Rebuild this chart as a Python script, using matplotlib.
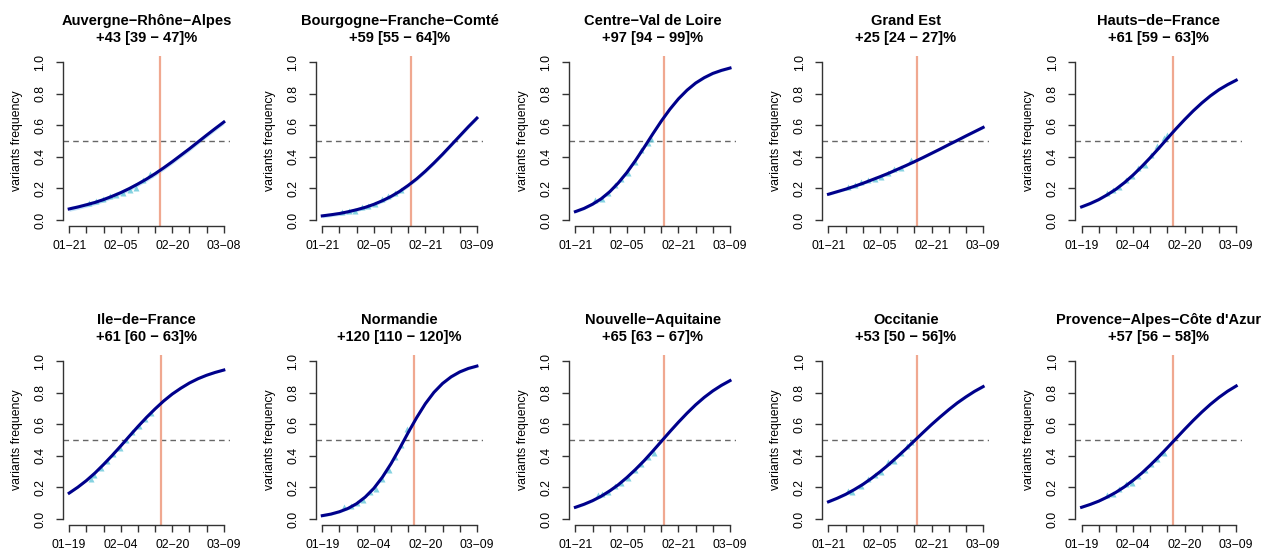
import numpy as np
import pandas as pd
import matplotlib
matplotlib.use('Agg')
import matplotlib.pyplot as plt

plt.rcParams['font.family'] = ['Liberation Sans', 'DejaVu Sans']

regions = ["Auvergne−Rhône−Alpes", "Bourgogne−Franche−Comté", "Centre−Val de Loire",
           "Grand Est", "Hauts−de−France", "Ile−de−France", "Normandie",
           "Nouvelle−Aquitaine", "Occitanie", "Provence−Alpes−Côte d'Azur"]
growth = ["+43 [39 − 47]%", "+59 [55 − 64]%", "+97 [94 − 99]%", "+25 [24 − 27]%",
          "+61 [59 − 63]%", "+61 [60 − 63]%", "+120 [110 − 120]%", "+65 [63 − 67]%",
          "+53 [50 − 56]%", "+57 [56 − 58]%"]
start_dates = ["2021-01-21", "2021-01-21", "2021-01-21", "2021-01-21", "2021-01-19",
               "2021-01-19", "2021-01-19", "2021-01-21", "2021-01-21", "2021-01-19"]
end_dates = ["2021-03-08", "2021-03-09", "2021-03-09", "2021-03-09", "2021-03-09",
             "2021-03-09", "2021-03-09", "2021-03-09", "2021-03-09", "2021-03-09"]
cutoff_date = "2021-02-17"

x_labels = [["01−21", "02−05", "02−20", "03−08"],
            ["01−21", "02−05", "02−21", "03−09"],
            ["01−21", "02−05", "02−21", "03−09"],
            ["01−21", "02−05", "02−21", "03−09"],
            ["01−19", "02−04", "02−20", "03−09"],
            ["01−19", "02−04", "02−20", "03−09"],
            ["01−19", "02−04", "02−20", "03−09"],
            ["01−21", "02−05", "02−21", "03−09"],
            ["01−21", "02−05", "02−21", "03−09"],
            ["01−19", "02−04", "02−20", "03−09"]]

# fitted frequency, read at evenly spaced points from first to last date
fit = [
    [0.070, 0.082, 0.096, 0.111, 0.129, 0.150, 0.173, 0.199, 0.228, 0.259, 0.293, 0.330, 0.369, 0.410, 0.451, 0.494, 0.537, 0.579, 0.620],
    [0.026, 0.033, 0.041, 0.052, 0.065, 0.080, 0.099, 0.122, 0.149, 0.181, 0.219, 0.261, 0.309, 0.361, 0.416, 0.474, 0.532, 0.590, 0.645],
    [0.053, 0.073, 0.100, 0.134, 0.179, 0.235, 0.301, 0.377, 0.459, 0.544, 0.626, 0.701, 0.767, 0.822, 0.867, 0.901, 0.928, 0.947, 0.962],
    [0.163, 0.179, 0.195, 0.213, 0.232, 0.253, 0.274, 0.296, 0.320, 0.344, 0.369, 0.395, 0.422, 0.449, 0.477, 0.504, 0.532, 0.559, 0.586],
    [0.083, 0.104, 0.129, 0.160, 0.195, 0.237, 0.285, 0.338, 0.395, 0.455, 0.517, 0.578, 0.636, 0.691, 0.741, 0.786, 0.825, 0.857, 0.885],
    [0.164, 0.201, 0.243, 0.291, 0.345, 0.402, 0.462, 0.524, 0.585, 0.643, 0.697, 0.747, 0.791, 0.828, 0.861, 0.888, 0.910, 0.928, 0.943],
    [0.021, 0.031, 0.046, 0.067, 0.097, 0.139, 0.194, 0.265, 0.350, 0.446, 0.547, 0.643, 0.730, 0.802, 0.858, 0.900, 0.931, 0.953, 0.968],
    [0.074, 0.093, 0.116, 0.144, 0.178, 0.217, 0.263, 0.314, 0.369, 0.429, 0.491, 0.553, 0.613, 0.670, 0.723, 0.770, 0.811, 0.846, 0.876],
    [0.109, 0.131, 0.156, 0.186, 0.219, 0.257, 0.299, 0.344, 0.393, 0.443, 0.495, 0.547, 0.598, 0.646, 0.692, 0.735, 0.773, 0.808, 0.838],
    [0.074, 0.092, 0.113, 0.139, 0.169, 0.204, 0.245, 0.290, 0.341, 0.395, 0.452, 0.510, 0.568, 0.624, 0.677, 0.726, 0.770, 0.809, 0.842],
]
ci_half = [0.015, 0.012, 0.008, 0.008, 0.008, 0.006, 0.008, 0.008, 0.008, 0.006]

# observed frequencies (days since first date)
obs_days = [
    [6, 8, 10, 12, 14, 16, 18, 20, 22, 24],
    [6, 8, 10, 12, 14, 16, 18, 20, 22, 24],
    [6, 8, 10, 12, 14, 16, 18, 20, 22, 23],
    [6, 8, 10, 12, 14, 16, 18, 20, 22, 25],
    [8, 10, 12, 14, 16, 18, 20, 22, 24, 26, 27],
    [7, 8, 10, 12, 14, 16, 18, 20, 22, 24, 26],
    [7, 9, 11, 13, 15, 17, 19, 21, 23, 25, 27],
    [7, 8, 10, 12, 14, 16, 18, 20, 22, 24],
    [6, 7, 10, 12, 14, 16, 18, 20, 22, 24, 25],
    [8, 10, 12, 14, 16, 18, 20, 22, 24, 26],
]
obs_freq = [
    [0.11, 0.12, 0.13, 0.15, 0.16, 0.17, 0.19, 0.20, 0.25, 0.29],
    [0.05, 0.055, 0.06, 0.08, 0.09, 0.10, 0.13, 0.15, 0.17, 0.19],
    [0.125, 0.13, 0.17, 0.22, 0.26, 0.30, 0.37, 0.44, 0.49, 0.51],
    [0.21, 0.22, 0.24, 0.25, 0.26, 0.27, 0.30, 0.32, 0.33, 0.38],
    [0.17, 0.19, 0.21, 0.25, 0.28, 0.33, 0.35, 0.41, 0.47, 0.52, 0.54],
    [0.25, 0.28, 0.32, 0.37, 0.41, 0.45, 0.50, 0.55, 0.59, 0.63, 0.67],
    [0.075, 0.08, 0.10, 0.12, 0.17, 0.19, 0.25, 0.31, 0.39, 0.47, 0.57],
    [0.15, 0.16, 0.17, 0.21, 0.23, 0.26, 0.31, 0.35, 0.39, 0.42],
    [0.18, 0.17, 0.21, 0.25, 0.28, 0.30, 0.36, 0.37, 0.42, 0.46, 0.49],
    [0.15, 0.16, 0.19, 0.22, 0.23, 0.27, 0.31, 0.35, 0.38, 0.42],
]

W, H = 1272, 555
fig = plt.figure(figsize=(W / 100, H / 100), dpi=100)

for i, name in enumerate(regions):
    row, col = divmod(i, 5)
    left = 63 + 253.1 * col
    top = 55.7 + 299 * row
    ax = fig.add_axes([left / W, 1 - (top + 170.6) / H, 167 / W, 170.6 / H])

    start = pd.Timestamp(start_dates[i])
    n = (pd.Timestamp(end_dates[i]) - start).days
    xs = np.linspace(0, n, len(fit[i]))
    y = np.array(fit[i])

    ax.fill_between(xs, y - ci_half[i], y + ci_half[i], color='#b5dcf5', lw=0, alpha=0.8)
    ax.axhline(0.5, color='#666666', lw=1, ls=(0, (4, 3)))
    ax.axvline((pd.Timestamp(cutoff_date) - start).days, color='#f0a890', lw=1.6)
    ax.plot(obs_days[i], obs_freq[i], '^', ms=4.5, color='#5cc4d6', alpha=0.75, mec='none')
    ax.plot(xs, y, color='#00008b', lw=2.2)

    ax.set_xlim(-0.04 * n, 1.04 * n)
    ax.set_ylim(-0.04, 1.04)
    for s in ['top', 'right']:
        ax.spines[s].set_visible(False)
    ax.spines['left'].set_bounds(0, 1)
    ax.spines['bottom'].set_bounds(0, n)
    for s in ['left', 'bottom']:
        ax.spines[s].set_color('#333333')
        ax.spines[s].set_linewidth(1)

    ticks = np.linspace(0, n, 10)
    labels = [''] * 10
    labels[0::3] = x_labels[i]
    ax.set_xticks(ticks)
    ax.set_xticklabels(labels, fontsize=8.8)
    ax.set_yticks([0, 0.2, 0.4, 0.6, 0.8, 1.0])
    ax.set_yticklabels(['0.0', '0.2', '0.4', '0.6', '0.8', '1.0'], fontsize=8.8,
                       rotation=90, va='center')
    ax.tick_params(axis='x', length=5, width=1, color='#333333', pad=5)
    ax.tick_params(axis='y', length=5, width=1, color='#333333', pad=7)

    ax.set_ylabel('variants frequency', fontsize=8.8)
    ax.yaxis.set_label_coords(-0.24, 0.5)
    ax.set_title(name + '\n' + growth[i], fontsize=10.5, fontweight='bold',
                 linespacing=1.3, pad=10)

fig.savefig('out.png', dpi=100)
